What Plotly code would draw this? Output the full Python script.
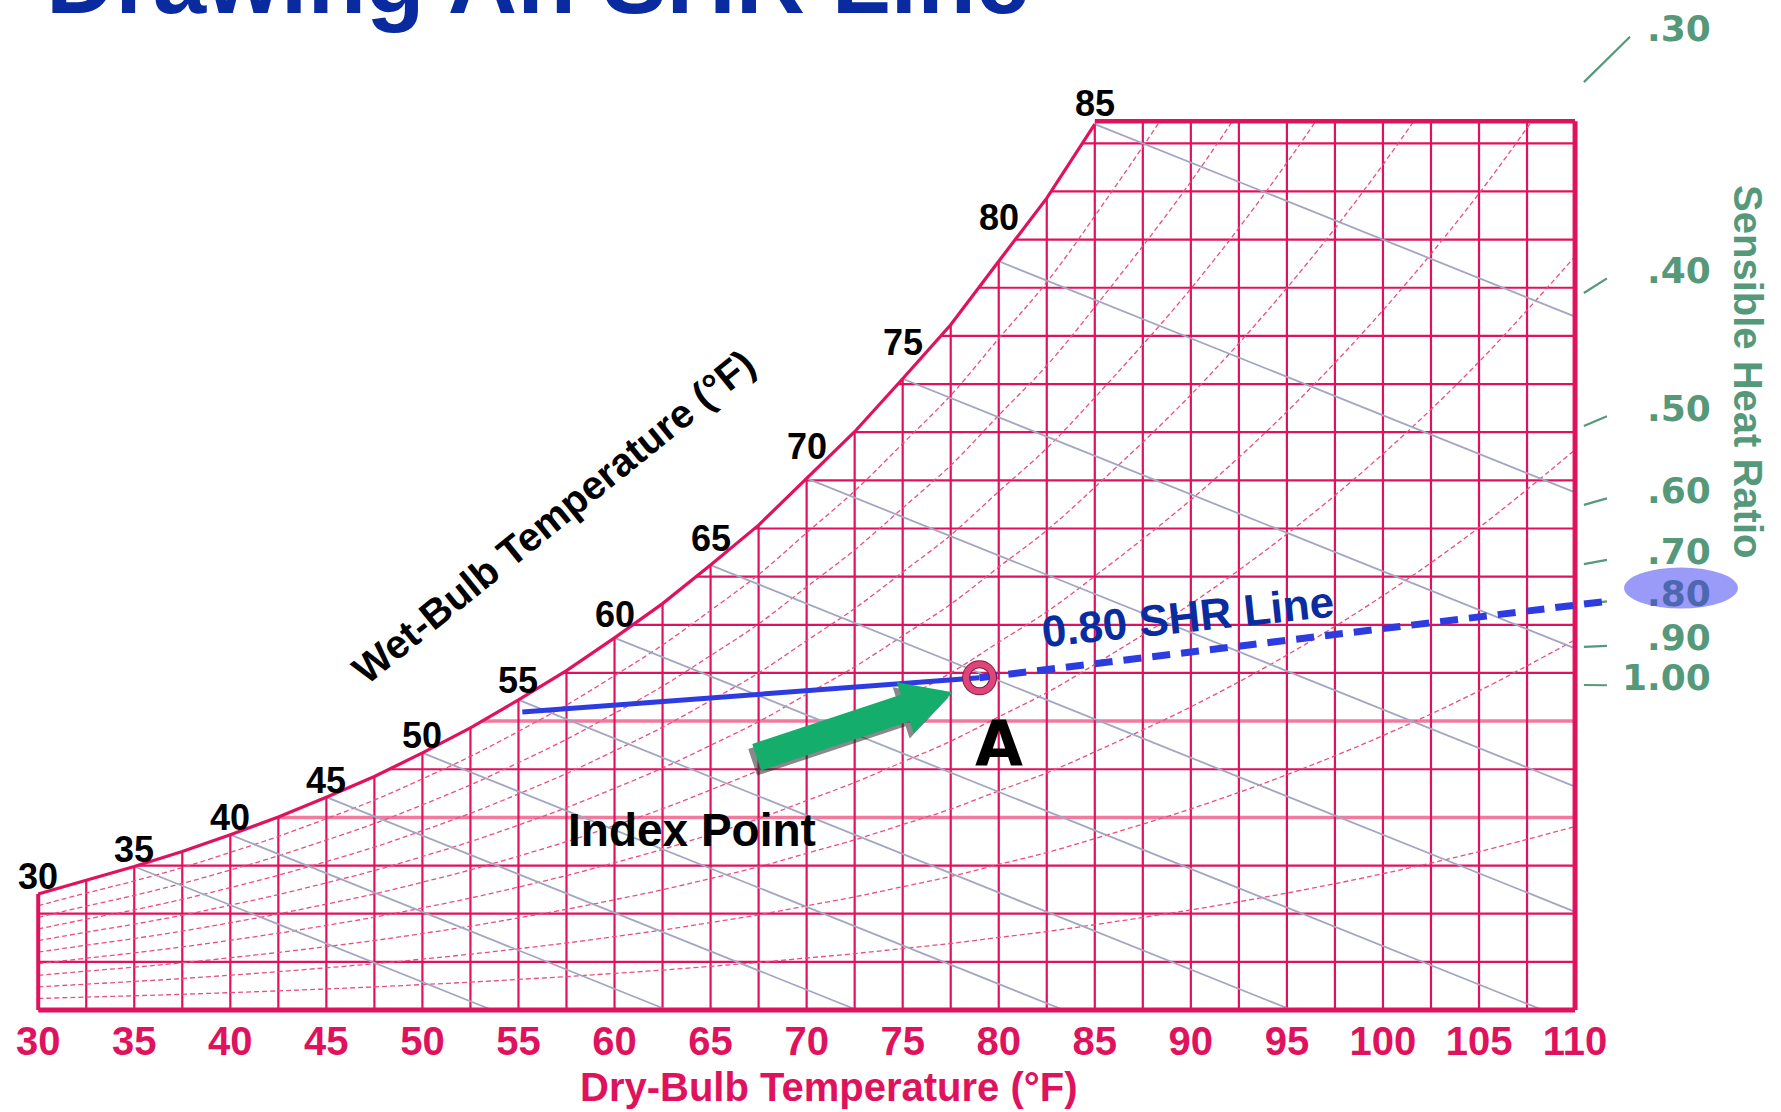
import math
import plotly.graph_objects as go

# ---------------- data ----------------
# saturation curve: dry-bulb (F) -> humidity ratio (grains of moisture / lb dry air)
sat_db = [30, 32.5, 35, 37.5, 40, 42.5, 45, 47.5, 50, 52.5, 55, 57.5, 60, 62.5, 65, 67.5,
          70, 72.5, 75, 77.5, 80, 82.5, 85, 90, 95, 100, 105, 110]
sat_w = [24.1, 27.0, 29.8, 32.9, 36.4, 40.1, 44.2, 48.5, 53.4, 58.6, 64.4, 70.5, 77.3, 84.4,
         92.4, 100.7, 110.4, 120.1, 131.1, 142.3, 155.5, 168.6, 184.0, 217.2, 255.8, 300.7,
         352.9, 413.6]
db_ticks = [30, 35, 40, 45, 50, 55, 60, 65, 70, 75, 80, 85, 90, 95, 100, 105, 110]
db_grid = [32.5, 35, 37.5, 40, 42.5, 45, 47.5, 50, 52.5, 55, 57.5, 60, 62.5, 65, 67.5, 70,
           72.5, 75, 77.5, 80, 82.5, 85, 87.5, 90, 92.5, 95, 97.5, 100, 102.5, 105, 107.5]
w_grid = [10, 20, 30, 40, 50, 60, 70, 80, 90, 100, 110, 120, 130, 140, 150, 160, 170, 180]
w_light = [40, 60]
chart_top_w = 184.6
db_min, db_max = 30, 110
rh_levels = [0.1, 0.2, 0.3, 0.4, 0.5, 0.6, 0.7, 0.8, 0.9]
wb_line_temps = [35, 40, 45, 50, 55, 60, 65, 70, 75, 80, 85]
wb_label_temps = [30, 35, 40, 45, 50, 55, 60, 65, 70, 75, 80, 85]
wb_slope = -1.6  # grains per F along a wet-bulb line

shr_values = [0.30, 0.40, 0.50, 0.60, 0.70, 0.80, 0.90, 1.00]
shr_labels = [".30", ".40", ".50", ".60", ".70", ".80", ".90", "1.00"]
shr_tick_w = [192.7, 148.9, 121.3, 104.9, 92.6, 84.3, 75.4, 67.5]
shr_selected = 0.80

index_db, index_w = 79.0, 69.0        # point A
coil_db, coil_w = 55.2, 61.9          # start of solid blue line
arrow_tail = (67.4, 52.5)
arrow_tip = (77.6, 66.0)

# ---------------- geometry of the canvas ----------------
FIG_W, FIG_H = 1781, 1112
X_RANGE = [28.011, 120.72]
Y_RANGE = [-21.18, 209.76]
SX = FIG_W / (X_RANGE[1] - X_RANGE[0])
SY = FIG_H / (Y_RANGE[1] - Y_RANGE[0])


def to_px(t, w):
    return (t - X_RANGE[0]) * SX, (Y_RANGE[1] - w) * SY


def from_px(px, py):
    return X_RANGE[0] + px / SX, Y_RANGE[1] - py / SY


sat = dict(zip(sat_db, sat_w))

PINK = "#e0125e"
PINK_LIGHT = "#f27a9f"
RH_PINK = "#e9507f"
GRAY = "#a3a6c2"
GREEN = "#56997a"
BLUE = "#2d3ce0"
DARKBLUE = "#0b2c9f"
SANS = "Liberation Sans, Arial, Helvetica"

fig = go.Figure()


def line(xs, ys, color, width, dash=None, shape="linear"):
    fig.add_trace(go.Scatter(x=xs, y=ys, mode="lines",
                             line=dict(color=color, width=width, dash=dash, shape=shape),
                             hoverinfo="skip", showlegend=False))


# horizontal humidity-ratio lines
for w in w_grid:
    if w in w_light:
        line([db_min, db_max], [w, w], PINK_LIGHT, 3.5)
    else:
        line([db_min, db_max], [w, w], PINK, 2.2)

# vertical dry-bulb lines
for t in db_grid:
    line([t, t], [0, chart_top_w], PINK, 2.2)

# relative humidity curves
for phi in rh_levels:
    ys = []
    for ws in sat_w:
        r = ws / (4354.0 + ws)
        ys.append(4354.0 * phi * r / (1 - phi * r))
    line(sat_db, ys, RH_PINK, 1.3, dash="5px,3px", shape="spline")

# wet-bulb lines
for t in wb_line_temps:
    w0 = sat[t]
    t_end = t + w0 / (-wb_slope)
    if t_end > db_max:
        t_end = db_max
    w_end = w0 + wb_slope * (t_end - t)
    line([t, t_end], [w0, w_end], GRAY, 1.8)

# white mask above the saturation curve / above chart top
mask_x = [t for t in sat_db if t <= 85] + [85, db_max + 0.5, db_max + 0.5, 27.0, 27.0]
mask_y = [sat[t] for t in sat_db if t <= 85] + [chart_top_w, chart_top_w, 230, 230, sat_w[0]]
fig.add_trace(go.Scatter(x=mask_x, y=mask_y, mode="lines", fill="toself", fillcolor="white",
                         line=dict(width=0, color="white"), hoverinfo="skip", showlegend=False))

# saturation curve and borders
sx = [t for t in sat_db if t <= 85]
line(sx, [sat[t] for t in sx], PINK, 3.2)
line([db_min, db_max], [0, 0], PINK, 5)
line([db_max, db_max], [0, chart_top_w], PINK, 5)
line([85, db_max], [chart_top_w, chart_top_w], PINK, 4.5)
line([db_min, db_min], [0, sat_w[0]], PINK, 4)

# SHR scale ticks (rays from index point)
TICK_X0 = 110.46
for v, tw in zip(shr_values, shr_tick_w):
    slope = (tw - index_w) / (TICK_X0 - index_db)
    ln = 2.4 if v == shr_values[0] else 1.2
    line([TICK_X0, TICK_X0 + ln], [tw, tw + slope * ln], GREEN, 2.2)

# blue lines
line([coil_db, index_db], [coil_w, index_w], BLUE, 5)
sel_w = shr_tick_w[shr_values.index(shr_selected)]
sel_slope = (sel_w - index_w) / (TICK_X0 - index_db)
shr_end_db = TICK_X0 + 1.5
line([index_db, shr_end_db], [index_w, index_w + sel_slope * (shr_end_db - index_db)],
     BLUE, 7, dash="18px,11px")

# green arrow (polygon built in pixel space)
tx, ty = to_px(*arrow_tail)
hx, hy = to_px(*arrow_tip)
L = math.hypot(hx - tx, hy - ty)
ux, uy = (hx - tx) / L, (hy - ty) / L
nx, ny = -uy, ux
shaft, head, head_len = 14, 27, 50
bx, by = hx - ux * head_len, hy - uy * head_len
poly_px = [(tx + nx * shaft, ty + ny * shaft), (bx + nx * shaft, by + ny * shaft),
           (bx + nx * head, by + ny * head), (hx, hy),
           (bx - nx * head, by - ny * head), (bx - nx * shaft, by - ny * shaft),
           (tx - nx * shaft, ty - ny * shaft), (tx + nx * shaft, ty + ny * shaft)]
for (dx, dy, col) in [(-4, 5, "rgba(40,40,40,0.55)"), (0, 0, "#14ad6c")]:
    pts = [from_px(px + dx, py + dy) for px, py in poly_px]
    fig.add_trace(go.Scatter(x=[p[0] for p in pts], y=[p[1] for p in pts], mode="lines",
                             fill="toself", fillcolor=col, line=dict(width=0, color=col),
                             hoverinfo="skip", showlegend=False))

# index point marker (dark outline + pink ring)
fig.add_trace(go.Scatter(x=[index_db], y=[index_w], mode="markers",
                         marker=dict(symbol="circle-open", size=27, color="#7a2040",
                                     line=dict(width=8)),
                         hoverinfo="skip", showlegend=False))
fig.add_trace(go.Scatter(x=[index_db], y=[index_w], mode="markers",
                         marker=dict(symbol="circle-open", size=27, color="#e0457a",
                                     line=dict(width=6)),
                         hoverinfo="skip", showlegend=False))

# ---------------- annotations ----------------
ann = []
# title (clipped at top)
ann.append(dict(xref="paper", yref="paper", x=44 / FIG_W, y=1 - 35 / FIG_H,
                xanchor="left", yanchor="bottom", showarrow=False,
                text="Drawing An SHR Line",
                font=dict(family=SANS, size=96, color="#0a2a9f", weight="bold")))
# wet-bulb labels along saturation curve
for t in wb_label_temps:
    i = sat_db.index(t)
    lo = max(i - 1, 0)
    hi = min(i + 1, len(sat_db) - 1)
    g = (sat_w[hi] - sat_w[lo]) / (sat_db[hi] - sat_db[lo])
    slope_px = g * SY / SX
    off = 21 if t == wb_label_temps[-1] else max(17, 33 * slope_px)
    ann.append(dict(x=t, y=sat[t], yshift=off, xanchor="center", yanchor="middle",
                    showarrow=False, text=str(t),
                    font=dict(family=SANS, size=36, color="black", weight="bold")))
wx, wy = from_px(553, 517)
ann.append(dict(x=wx, y=wy, textangle=-39, showarrow=False, text="Wet-Bulb Temperature (°F)",
                font=dict(family=SANS, size=40, color="black", weight="bold")))
ann.append(dict(xref="paper", yref="paper", x=829 / FIG_W, y=1 - 1087 / FIG_H,
                xanchor="center", yanchor="middle", showarrow=False,
                text="Dry-Bulb Temperature (°F)",
                font=dict(family=SANS, size=40, color=PINK, weight="bold")))
ann.append(dict(x=arrow_tail[0], y=arrow_tail[1], xshift=-65, yshift=-73, showarrow=False,
                text="Index Point",
                font=dict(family=SANS, size=46, color="black", weight="bold")))
ann.append(dict(x=index_db, y=index_w, xshift=19, yshift=-66, showarrow=False, text="A",
                font=dict(family="DejaVu Sans, Liberation Sans", size=62, color="black",
                          weight="bold")))
lab_db = 89.8
ann.append(dict(x=lab_db, y=index_w + sel_slope * (lab_db - index_db), yshift=36,
                textangle=-6, showarrow=False, text="0.80 SHR Line",
                font=dict(family=SANS, size=44, color=DARKBLUE, weight="bold")))
# SHR scale labels
for v, tw, lab in zip(shr_values, shr_tick_w, shr_labels):
    slope = (tw - index_w) / (TICK_X0 - index_db)
    ln = 2.4 if v == shr_values[0] else 1.2
    col = "#4d68ae" if v == shr_selected else GREEN
    ann.append(dict(x=117.2, y=tw + slope * ln, yshift=8, xanchor="right", yanchor="middle",
                    showarrow=False, text=lab,
                    font=dict(family="DejaVu Sans", size=36, color=col, weight="bold")))
ann.append(dict(x=119.0, y=132.5, textangle=90, showarrow=False, text="Sensible Heat Ratio",
                font=dict(family=SANS, size=40, color=GREEN, weight="bold")))

fig.update_layout(
    width=FIG_W, height=FIG_H, autosize=False,
    margin=dict(l=0, r=0, t=0, b=0, pad=0),
    paper_bgcolor="white", plot_bgcolor="white",
    annotations=ann,
    shapes=[dict(type="circle", xref="x", yref="y", x0=112.55, x1=118.48, y0=83.4, y1=91.9,
                 fillcolor="#8f8ff7", line=dict(width=0), opacity=0.9, layer="below")],
    xaxis=dict(range=X_RANGE, domain=[0, 1], anchor="free",
               position=(0 - Y_RANGE[0]) / (Y_RANGE[1] - Y_RANGE[0]),
               tickmode="array", tickvals=db_ticks, ticktext=[str(t) for t in db_ticks],
               ticks="", showline=False, showgrid=False, zeroline=False,
               ticklabelstandoff=4,
               tickfont=dict(family=SANS, size=40, color=PINK, weight="bold")),
    yaxis=dict(range=Y_RANGE, domain=[0, 1], visible=False),
)

fig.write_html("out.html", config={"displayModeBar": False},
               post_script="document.body.style.margin='0';document.body.style.overflow='hidden';")
